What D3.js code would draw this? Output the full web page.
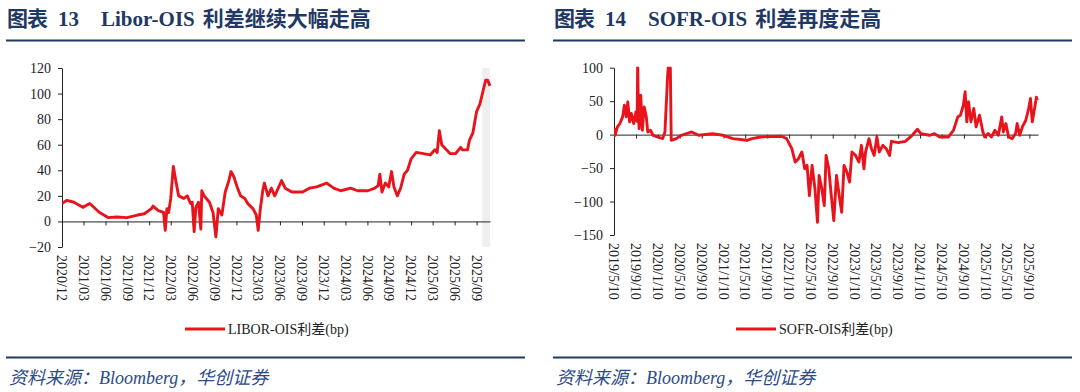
<!DOCTYPE html>
<html>
<head>
<meta charset="utf-8">
<script src="https://cdn.jsdelivr.net/npm/d3@7"></script>
<style>
    body { margin: 0; background: #fff; }
    svg { display: block; }
    .serif { font-family: "Liberation Serif", "Times New Roman", "Noto Sans CJK SC", serif; }
</style>
</head>
<body>
<svg id="chart" width="1080" height="392"></svg>
<script>
// ---- data ----
var liborDates = ["2020-12-01","2020-12-22","2021-01-20","2021-02-26","2021-03-27","2021-05-07","2021-06-12","2021-07-18",
    "2021-08-30","2021-10-13","2021-11-11","2021-12-10","2021-12-17","2022-01-08","2022-01-30","2022-02-06","2022-02-13",
    "2022-02-20","2022-03-01","2022-03-12","2022-03-22","2022-04-03","2022-04-25","2022-05-09","2022-05-23","2022-05-30",
    "2022-06-07","2022-06-14","2022-06-25","2022-07-05","2022-07-09","2022-07-19","2022-08-10","2022-08-25","2022-09-06",
    "2022-09-16","2022-10-01","2022-10-15","2022-10-29","2022-11-08","2022-11-20","2022-12-04","2022-12-18","2023-01-05",
    "2023-01-17","2023-02-08","2023-02-22","2023-03-02","2023-03-11","2023-03-21","2023-03-28","2023-04-12","2023-04-26",
    "2023-05-10","2023-05-25","2023-06-08","2023-06-23","2023-07-21","2023-09-04","2023-10-02","2023-11-01","2023-12-14",
    "2024-01-12","2024-02-10","2024-03-23","2024-04-21","2024-06-03","2024-07-02","2024-07-16","2024-07-23","2024-08-01",
    "2024-08-15","2024-08-29","2024-09-10","2024-09-20","2024-10-04","2024-10-18","2024-11-02","2024-11-16","2024-12-01",
    "2024-12-22","2025-01-21","2025-02-19","2025-03-10","2025-03-20","2025-03-29","2025-04-08","2025-04-23","2025-05-14",
    "2025-06-05","2025-06-26","2025-07-03","2025-07-25","2025-08-02","2025-08-16","2025-09-01","2025-09-15","2025-09-29",
    "2025-10-09","2025-10-17","2025-10-27"];
var liborValues = [14,16.5,15,11,14,7,3,3.5,
    3,5,6,10,12,8.5,7,-7,10,
    7,18,43,32,20,18,20,14,15,
    -8,11,15,-6,24,20,15,7,-12,
    10,5,23,31,39,35,27,20,18,
    14,10,5,-7,10,24,30,20,26,
    20,26,32,26,23,23,26,27,30,
    26,24,26,24,24,26,28,37,23,
    30,27,39,27,20,26,37,40,49,
    54,53,52,56,54,71,60,57,53,
    53,58,56,56,63.5,69,86,92,103,
    110.5,110.5,106];

var sofrDates = ["2019-05-10","2019-05-16","2019-05-29","2019-06-12","2019-06-27","2019-07-07","2019-07-17","2019-07-26",
    "2019-08-05","2019-08-15","2019-08-28","2019-09-09","2019-09-16","2019-09-19","2019-09-23","2019-09-27","2019-10-06",
    "2019-10-15","2019-10-25","2019-11-06","2019-11-14","2019-11-29","2019-12-14","2020-01-07","2020-02-05","2020-02-18",
    "2020-03-04","2020-03-11","2020-03-19","2020-03-24","2020-04-21","2020-05-19","2020-07-16","2020-08-24","2020-11-09",
    "2021-01-06","2021-03-03","2021-05-19","2021-06-17","2021-08-04","2021-11-28","2021-12-27","2022-01-25","2022-02-13",
    "2022-03-03","2022-03-22","2022-04-07","2022-04-20","2022-05-03","2022-05-18","2022-06-03","2022-06-17","2022-06-26",
    "2022-07-11","2022-07-25","2022-08-04","2022-08-19","2022-09-02","2022-09-16","2022-10-01","2022-10-16","2022-10-30",
    "2022-11-12","2022-11-28","2022-12-13","2022-12-26","2023-01-15","2023-02-03","2023-02-17","2023-03-03","2023-03-12",
    "2023-03-31","2023-04-14","2023-04-29","2023-05-14","2023-05-27","2023-06-16","2023-07-05","2023-07-24","2023-08-03",
    "2023-09-11","2023-10-19","2023-11-27","2023-12-26","2024-01-14","2024-03-02","2024-03-30","2024-04-28","2024-06-16",
    "2024-07-14","2024-08-07","2024-08-22","2024-09-07","2024-09-17","2024-09-26","2024-10-06","2024-10-19","2024-11-04",
    "2024-11-17","2024-12-06","2024-12-25","2025-01-04","2025-01-23","2025-02-11","2025-03-02","2025-03-21","2025-04-09",
    "2025-04-18","2025-05-02","2025-05-17","2025-06-06","2025-06-25","2025-07-04","2025-07-18","2025-08-02","2025-08-21",
    "2025-09-06","2025-09-16","2025-09-26","2025-10-09","2025-10-19","2025-10-24"];
var sofrValues = [10,-1,11.5,16.5,26.5,44,26.5,49,
    19,31.5,16.5,34,20,110,30,9,59,
    6.5,41.5,26.5,4,6.5,-1,-3.5,-6,4,
    89,110,99,-8.5,-6,-1,4,-1,1.5,
    -1,-6,-8.5,-6,-3.5,-2.5,-6,-21,-41,
    -36,-26,-51,-46,-91,-46,-81,-131,-61,
    -81,-106,-31,-51,-91,-128.5,-61,-91,-116,
    -46,-56,-71,-26,-31,-41,-16,-51,-26,
    -6,-21,-31,-3.5,-26,-16,-21,-31,-10,
    -12,-10,-1,8,1.5,-1,1.5,-3.5,-3.5,
    6.5,26.5,29,44,64,19,49,19,39,
    11.5,29,4,-3.5,1.5,-3.5,6.5,-1,26.5,
    4,16.5,-3.5,-6,1.5,16.5,-1,11.5,21.5,
    39,54,19,39,56,51];

var liborTicks = ["2020/12","2021/03","2021/06","2021/09","2021/12","2022/03","2022/06","2022/09","2022/12","2023/03",
    "2023/06","2023/09","2023/12","2024/03","2024/06","2024/09","2024/12","2025/03","2025/06","2025/09"];
var sofrTicks = ["2019/5/10","2019/9/10","2020/1/10","2020/5/10","2020/9/10","2021/1/10","2021/5/10","2021/9/10","2022/1/10",
    "2022/5/10","2022/9/10","2023/1/10","2023/5/10","2023/9/10","2024/1/10","2024/5/10","2024/9/10","2025/1/10",
    "2025/5/10","2025/9/10"];
var liborYTicks = [-20, 0, 20, 40, 60, 80, 100, 120];
var sofrYTicks = [-150, -100, -50, 0, 50, 100];

var navy = "#1f3864";
var red = "#e8141c";

var svg = d3.select("#chart");
var parseDay = d3.timeParse("%Y-%m-%d");

function drawPanel(p) {

    var x = d3.scaleTime()
        .domain([parseDay(p.start), parseDay(p.end)])
        .range([p.left, p.right]);

    var y = d3.scaleLinear()
        .domain(p.yDomain)
        .range([p.bottom, p.top]);

    var g = svg.append("g");

    // title
    var title = g.append("text")
        .attr("class", "serif")
        .attr("y", 26)
        .style("font-size", "21px")
        .style("font-weight", "bold")
        .style("fill", navy);
    title.append("tspan").attr("x", p.panelX + 1).style("letter-spacing", "-1px").text("图表");
    title.append("tspan").attr("x", p.panelX + 52).text(p.num);
    title.append("tspan").attr("x", p.panelX + 95).text(p.titleEn);
    title.append("tspan").attr("dx", 8).text(p.titleCn);

    g.append("line")
        .attr("x1", p.panelX).attr("x2", p.panelX + 519)
        .attr("y1", 40.5).attr("y2", 40.5)
        .style("stroke", navy).style("stroke-width", 2);

    // shaded band (latest month)
    if (p.band) {
        g.append("rect")
            .attr("x", x(parseDay(p.band)))
            .attr("y", p.top)
            .attr("width", p.right - x(parseDay(p.band)))
            .attr("height", p.bottom - p.top)
            .style("fill", "#efefef");
    }

    // y axis
    var yAxis = d3.axisLeft(y)
        .tickValues(p.yTicks)
        .tickSize(4)
        .tickSizeOuter(0)
        .tickPadding(7);

    g.append("g")
        .attr("transform", "translate(" + p.left + ",0)")
        .call(yAxis)
        .call(function(a) {
            a.select(".domain").style("stroke", "#222");
            a.selectAll("line").style("stroke", "#222");
            a.selectAll("text")
                .attr("class", "serif")
                .style("font-size", "14px")
                .style("fill", "#222");
        });

    // x axis on the zero line, labels at the bottom
    var tickDates = p.ticks.map(p.tickParse);

    var xAxis = d3.axisBottom(x)
        .tickValues(tickDates)
        .tickSize(4)
        .tickSizeOuter(0)
        .tickFormat("");

    g.append("g")
        .attr("transform", "translate(0," + y(0) + ")")
        .call(xAxis)
        .call(function(a) {
            a.select(".domain").style("stroke", "#222");
            a.selectAll("line").style("stroke", "#222");
        });

    g.selectAll(".xlab")
        .data(tickDates)
        .enter()
        .append("text")
        .attr("class", "serif")
        .attr("transform", function(d) {
            return "translate(" + x(d) + "," + (p.bottom + 8) + ") rotate(90)";
        })
        .attr("dy", "0.35em")
        .style("font-size", "14px")
        .style("fill", "#222")
        .text(function(d, i) { return p.ticks[i]; });

    // series
    var clipId = "clip" + p.num;
    g.append("clipPath")
        .attr("id", clipId)
        .append("rect")
        .attr("x", p.left).attr("y", p.top - 1)
        .attr("width", p.right - p.left + 2).attr("height", p.bottom - p.top + 2);

    var pts = p.dates.map(function(d, i) { return [parseDay(d), p.values[i]]; });

    var line = d3.line()
        .x(function(d) { return x(d[0]); })
        .y(function(d) { return y(d[1]); });

    g.append("path")
        .datum(pts)
        .attr("clip-path", "url(#" + clipId + ")")
        .attr("d", line)
        .style("fill", "none")
        .style("stroke", red)
        .style("stroke-width", 2.9)
        .style("stroke-linejoin", "round");

    // legend
    g.append("line")
        .attr("x1", p.legendX).attr("x2", p.legendX + 40)
        .attr("y1", 329).attr("y2", 329)
        .style("stroke", red).style("stroke-width", 3);

    g.append("text")
        .attr("class", "serif")
        .attr("x", p.legendX + 43)
        .attr("y", 334)
        .style("font-size", "14px")
        .style("fill", "#222")
        .text(p.legend);

    // source
    g.append("line")
        .attr("x1", p.panelX).attr("x2", p.panelX + 519)
        .attr("y1", 357.5).attr("y2", 357.5)
        .style("stroke", navy).style("stroke-width", 2);

    g.append("text")
        .attr("class", "serif")
        .attr("x", p.panelX + 3)
        .attr("y", 384)
        .style("font-size", "18px")
        .style("font-style", "italic")
        .style("fill", "#2b4a8b")
        .text("资料来源：Bloomberg，华创证券");
}

var parseYm = d3.timeParse("%Y/%m");
var parseYmd = d3.timeParse("%Y/%m/%d");

drawPanel({
    panelX: 6, num: "13", titleEn: "Libor-OIS", titleCn: "利差继续大幅走高",
    start: "2020-12-01", end: "2025-10-27", band: "2025-09-25",
    left: 62, right: 490, top: 68, bottom: 247,
    yDomain: [-20, 120], yTicks: liborYTicks,
    ticks: liborTicks, tickParse: parseYm,
    dates: liborDates, values: liborValues,
    legendX: 185, legend: "LIBOR-OIS利差(bp)"
});

drawPanel({
    panelX: 553, num: "14", titleEn: "SOFR-OIS", titleCn: "利差再度走高",
    start: "2019-05-10", end: "2025-10-28", band: null,
    left: 614, right: 1038, top: 67.7, bottom: 235,
    yDomain: [-150, 100], yTicks: sofrYTicks,
    ticks: sofrTicks, tickParse: parseYmd,
    dates: sofrDates, values: sofrValues,
    legendX: 736, legend: "SOFR-OIS利差(bp)"
});
</script>
</body>
</html>
